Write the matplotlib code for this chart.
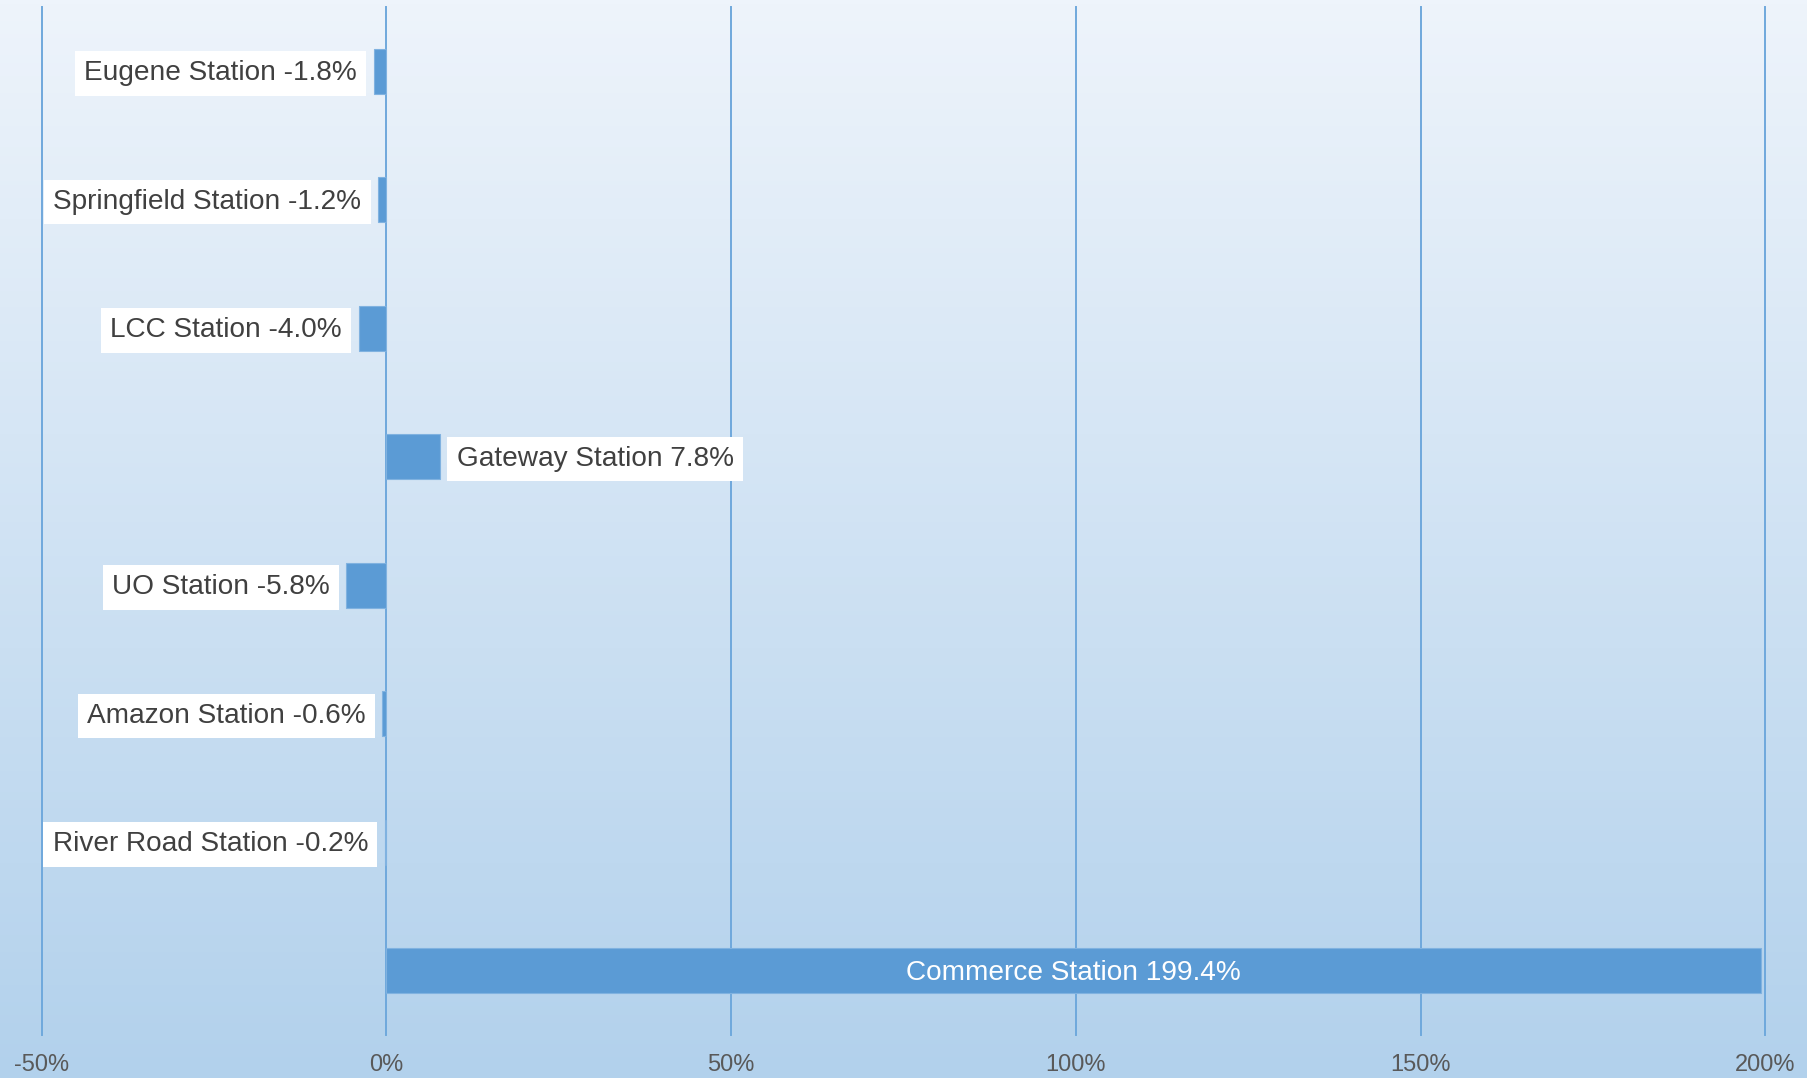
import matplotlib
matplotlib.use("Agg")
import matplotlib.pyplot as plt
import numpy as np
from matplotlib.colors import LinearSegmentedColormap
from matplotlib.ticker import FuncFormatter

# Ridership change by station
stations = ["Eugene Station", "Springfield Station", "LCC Station", "Gateway Station",
            "UO Station", "Amazon Station", "River Road Station", "Commerce Station"]
change_pct = [-1.8, -1.2, -4.0, 7.8, -5.8, -0.6, -0.2, 199.4]
x_ticks = [-50, 0, 50, 100, 150, 200]

plt.rcParams['font.family'] = ['Liberation Sans', 'DejaVu Sans']

fig = plt.figure(figsize=(18.07, 10.78), dpi=100)

# vertical gradient background
bg = fig.add_axes([0, 0, 1, 1], zorder=-10)
grad = np.linspace(0, 1, 256).reshape(-1, 1)
cmap = LinearSegmentedColormap.from_list('bg', ['#EEF4FB', '#B2D1EC'])
bg.imshow(grad, aspect='auto', cmap=cmap, extent=[0, 1, 0, 1], origin='upper')
bg.axis('off')

ax = fig.add_axes([0.02297, 0.0399, 0.954, 0.9535])
ax.set_facecolor('none')
y = np.arange(len(stations))
ax.barh(y, change_pct, height=0.35, color='#5B9BD5', edgecolor='#80B2E0',
        linewidth=0.8, zorder=3)
ax.set_ylim(len(stations) - 0.5, -0.5)
ax.set_xlim(x_ticks[0], x_ticks[-1])
ax.set_xticks(x_ticks)
ax.xaxis.set_major_formatter(FuncFormatter(lambda v, p: f"{v:.0f}%"))
ax.tick_params(axis='x', length=0, pad=14, labelsize=17, labelcolor='#595959')
ax.set_yticks([])
for s in ax.spines.values():
    s.set_visible(False)
ax.grid(axis='x', color='#6FA8DC', linewidth=1.4, zorder=1)
ax.set_axisbelow(True)
for line in ax.get_xgridlines():
    line.set_clip_on(False)

box = dict(boxstyle='square,pad=0.33', facecolor='white', edgecolor='none')
xmax = ax.get_xlim()[1]
label_size = 20.2
for i, (name, v) in enumerate(zip(stations, change_pct)):
    text = f"{name} {v:.1f}%"
    if v > 0.5 * xmax:
        ax.annotate(text, (v / 2, i), xytext=(0, -1.5), textcoords='offset points',
                    ha='center', va='center', fontsize=label_size,
                    color='white', zorder=5)
    elif v >= 0:
        ax.annotate(text, (v, i), xytext=(12, -1.5), textcoords='offset points',
                    ha='left', va='center', fontsize=label_size, color='#404040',
                    bbox=box, zorder=5)
    else:
        ax.annotate(text, (v, i), xytext=(-12, -1.5), textcoords='offset points',
                    ha='right', va='center', fontsize=label_size, color='#404040',
                    bbox=box, zorder=5)

fig.savefig("out.png", dpi=100)
